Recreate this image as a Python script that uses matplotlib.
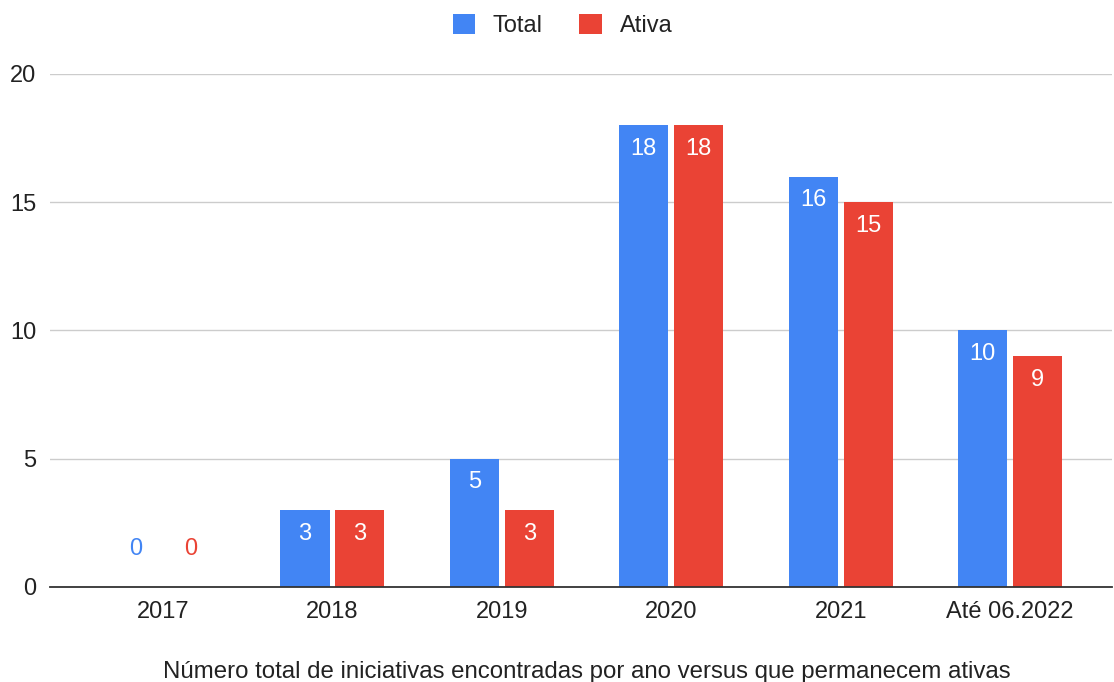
import matplotlib.pyplot as plt
import numpy as np

plt.rcParams['font.family'] = ['Liberation Sans', 'DejaVu Sans']

# Data
categories = ["2017", "2018", "2019", "2020", "2021", "Até 06.2022"]
total = [0, 3, 5, 18, 16, 10]
ativa = [0, 3, 3, 18, 15, 9]
series_names = ["Total", "Ativa"]
colors = ["#4285F4", "#EA4335"]

FS = 17

fig = plt.figure(figsize=(11.14, 6.82), dpi=100)
ax = fig.add_axes([0.0449, 0.1393, 0.9531, 0.7522])

x = np.arange(len(categories))
width = 0.29
offset = 0.162

for vals, off, col, name in zip([total, ativa], [-offset, offset], colors, series_names):
    ax.bar(x + off, vals, width, color=col, label=name, zorder=3)
    for xi, v in zip(x + off, vals):
        if v == 0:
            ax.annotate(str(v), (xi, 0), xytext=(0, 27), textcoords='offset points',
                        ha='center', va='center', color=col, fontsize=FS)
        else:
            ax.annotate(str(v), (xi, v), xytext=(0, -17), textcoords='offset points',
                        ha='center', va='center', color='white', fontsize=FS)

ax.set_xlim(-0.667, 5.6)
ax.set_ylim(0, 20)
ax.set_yticks([0, 5, 10, 15, 20])
ax.set_xticks(x)
ax.set_xticklabels(categories)
ax.tick_params(axis='both', length=0, labelsize=FS, colors='#222222')
ax.tick_params(axis='y', pad=10)
ax.tick_params(axis='x', pad=10)

ax.grid(axis='y', color='#cccccc', linewidth=1, zorder=0)
ax.set_axisbelow(True)
for s in ['top', 'right', 'left']:
    ax.spines[s].set_visible(False)
ax.spines['bottom'].set_color('#333333')
ax.spines['bottom'].set_linewidth(1.3)
ax.spines['bottom'].set_zorder(4)

# axis title, centred under the plot area
fig.text(0.527, 0.015, "Número total de iniciativas encontradas por ano versus que permanecem ativas",
         ha='center', va='center', fontsize=17.3, color='#222222')

leg = fig.legend(loc='center', bbox_to_anchor=(0.505, 0.963), ncol=2, frameon=False,
                 fontsize=FS, handlelength=0.95, handleheight=0.95, handletextpad=0.75,
                 columnspacing=1.55)
for t in leg.get_texts():
    t.set_color('#222222')

fig.savefig("out.png", dpi=100)
